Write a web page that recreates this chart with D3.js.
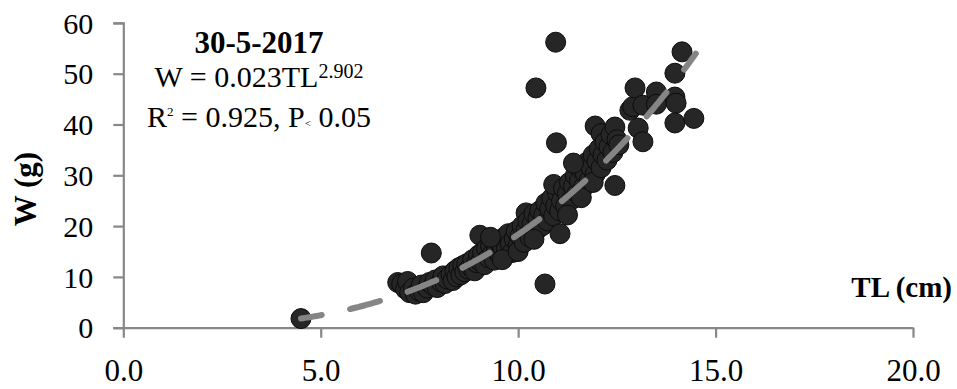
<!DOCTYPE html>
<html>
<head>
<meta charset="utf-8">
<script src="https://cdn.jsdelivr.net/npm/d3@7"></script>
<style>
  html, body { margin: 0; padding: 0; background: #fff; }
  svg { display: block; }
  text { font-family: "Liberation Serif", "Times New Roman", serif; fill: #000; }
</style>
</head>
<body>
<svg id="chart" width="957" height="389"></svg>
<script>
// Total length TL (cm) and weight W (g) of each fish sampled on 30-5-2017
const tlValues = [
  4.5,
  6.95, 7.05, 7.15, 7.2, 7.25, 7.35, 7.4, 7.5, 7.55, 7.6, 7.7, 7.75, 7.85, 7.9, 7.95, 7.8,
  8.05, 8.1, 8.15, 8.2, 8.3, 8.35, 8.4, 8.45, 8.5, 8.55, 8.6, 8.65, 8.7, 8.75, 8.8, 8.85, 8.9, 8.95, 9.03, 9.0,
  9.05, 9.1, 9.15, 9.2, 9.25, 9.3, 9.35, 9.4, 9.45, 9.5, 9.55, 9.6, 9.65, 9.7, 9.75, 9.8, 9.85, 9.9, 9.95, 10.0,
  9.3, 9.6, 10.0, 10.2,
  10.05, 10.1, 10.15, 10.2, 10.25, 10.3, 10.35, 10.4, 10.45, 10.5, 10.55, 10.6, 10.65, 10.7, 10.75, 10.8, 10.85, 10.9, 10.95, 11.0,
  10.45, 10.95, 10.97, 10.68, 11.06, 10.9, 10.4,
  11.05, 11.1, 11.15, 11.2, 11.25, 11.3, 11.35, 11.4, 11.45, 11.5, 11.55, 11.6, 11.65, 11.7, 11.75, 11.8, 11.85, 11.9, 11.95, 12.0, 11.95,
  11.4, 11.6, 11.9, 12.1, 11.25,
  12.05, 12.1, 12.15, 12.2, 12.25, 12.3, 12.35, 12.4, 12.45, 12.45, 12.5, 12.55,
  12.83, 12.9, 12.96, 13.04, 13.16, 13.16, 13.5, 13.5, 13.97, 14.0, 13.97, 14.45, 13.97, 14.15
];
const wValues = [
  1.8,
  8.9, 8.6, 7.6, 9.1, 6.9, 7.8, 6.6, 7.2, 8.4, 6.9, 7.8, 8.9, 8.3, 9.4, 7.9, 14.7,
  9.0, 10.2, 8.7, 9.6, 10.5, 9.3, 11.2, 10.0, 11.8, 10.4, 12.2, 11.0, 12.6, 11.5, 12.0, 13.4, 11.2, 12.8, 18.2, 14.3,
  13.0, 14.8, 12.4, 15.6, 13.8, 16.2, 14.5, 13.3, 15.2, 17.0, 14.2, 16.0, 17.8, 15.4, 18.5, 16.6, 14.8, 17.5, 19.0, 16.2,
  17.8, 13.4, 15.0, 22.6,
  18.0, 20.0, 16.8, 19.2, 21.0, 17.8, 20.4, 22.4, 19.0, 21.5, 23.0, 20.0, 22.2, 24.5, 21.0, 23.4, 25.5, 22.0, 24.0, 26.5,
  47.2, 56.2, 36.4, 8.6, 18.5, 28.2, 17.4,
  23.0, 25.0, 27.5, 24.0, 26.4, 28.6, 25.2, 27.8, 30.0, 26.5, 29.0, 31.2, 27.6, 30.4, 32.6, 29.0, 31.5, 34.0, 30.2, 32.8, 39.7,
  32.4, 25.6, 28.6, 38.2, 22.2,
  35.2, 31.5, 34.0, 36.5, 33.0, 35.6, 38.0, 34.5, 39.5, 28.0, 37.0, 36.0,
  42.8, 43.5, 47.2, 39.3, 43.8, 36.6, 46.4, 44.0, 45.4, 44.2, 40.3, 41.2, 50.1, 54.3
];

// Fitted length-weight relationship W = a * TL^b and its statistics
const fitA = 0.023;
const fitB = 2.902;
const fitR2 = 0.925;
const fitRange = [4.5, 14.5];

// Axis ticks
const xTicks = [0, 5, 10, 15, 20];
const yTicks = [0, 10, 20, 30, 40, 50, 60];

const svg = d3.select("#chart");

const x = d3.scaleLinear().domain([0, 20]).range([123.3, 913]);
const y = d3.scaleLinear().domain([0, 60]).range([327.7, 22.9]);

const axisColor = "#878787";

// Y axis
const gy = svg.append("g")
  .attr("transform", `translate(${x(0)},0)`)
  .call(d3.axisLeft(y).tickValues(yTicks).tickSize(10).tickPadding(20).tickFormat(d3.format("d")));
gy.select(".domain").attr("stroke", axisColor).attr("stroke-width", 2.2);
gy.selectAll(".tick line").attr("stroke", axisColor).attr("stroke-width", 2.2);
gy.selectAll(".tick text")
  .attr("font-family", "Liberation Serif")
  .attr("font-size", 30)
  .attr("fill", "#000")
  .attr("dy", "0.34em");

// X axis
const gx = svg.append("g")
  .attr("transform", `translate(0,${y(0)})`)
  .call(d3.axisBottom(x).tickValues(xTicks).tickSize(10).tickSizeOuter(0).tickFormat(d3.format(".1f")));
gx.select(".domain").attr("stroke", axisColor).attr("stroke-width", 2.2);
gx.selectAll(".tick line").attr("stroke", axisColor).attr("stroke-width", 2.2);
gx.selectAll(".tick text")
  .attr("font-family", "Liberation Serif")
  .attr("font-size", 31)
  .attr("fill", "#000")
  .attr("y", 53)
  .attr("dy", null);

// Scatter points
const points = tlValues.map((t, i) => ({ tl: t, w: wValues[i] }));
svg.append("g")
  .selectAll("circle")
  .data(points)
  .join("circle")
  .attr("cx", d => x(d.tl))
  .attr("cy", d => y(d.w))
  .attr("r", 10)
  .attr("fill", "#262626")
  .attr("stroke", "#0c0c0c")
  .attr("stroke-width", 1);

// Power trend line
const fitPts = d3.range(fitRange[0], fitRange[1] + 0.001, 0.05)
  .map(t => ({ tl: t, w: fitA * Math.pow(t, fitB) }));
svg.append("path")
  .datum(fitPts)
  .attr("fill", "none")
  .attr("stroke", "#858585")
  .attr("stroke-width", 6)
  .attr("stroke-linecap", "round")
  .attr("stroke-dasharray", "31 29")
  .attr("stroke-dashoffset", 10)
  .attr("d", d3.line().x(d => x(d.tl)).y(d => y(d.w)));

// Annotation block
const cx = 259;
svg.append("text")
  .attr("x", cx).attr("y", 53)
  .attr("text-anchor", "middle")
  .attr("font-size", 31)
  .attr("font-weight", "bold")
  .text("30-5-2017");

const eq = svg.append("text")
  .attr("x", cx).attr("y", 87)
  .attr("text-anchor", "middle")
  .attr("font-size", 30);
eq.append("tspan").text(`W = ${fitA}TL`);
eq.append("tspan").attr("font-size", 20).attr("dy", -9).text(fitB.toFixed(3));

const st = svg.append("text")
  .attr("x", cx).attr("y", 127)
  .attr("text-anchor", "middle")
  .attr("font-size", 30);
st.append("tspan").text("R");
st.append("tspan").attr("font-size", 13).attr("dy", -11).text("2");
st.append("tspan").attr("dy", 11).text(` = ${fitR2}, P`);
st.append("tspan").attr("font-size", 11).text("<");
st.append("tspan").text(" 0.05");

// Axis titles
svg.append("text")
  .attr("transform", "translate(36,189) rotate(-90)")
  .attr("text-anchor", "middle")
  .attr("font-size", 31)
  .attr("font-weight", "bold")
  .text("W (g)");

svg.append("text")
  .attr("x", 952).attr("y", 297)
  .attr("text-anchor", "end")
  .attr("font-size", 29)
  .attr("font-weight", "bold")
  .text("TL (cm)");
</script>
</body>
</html>
